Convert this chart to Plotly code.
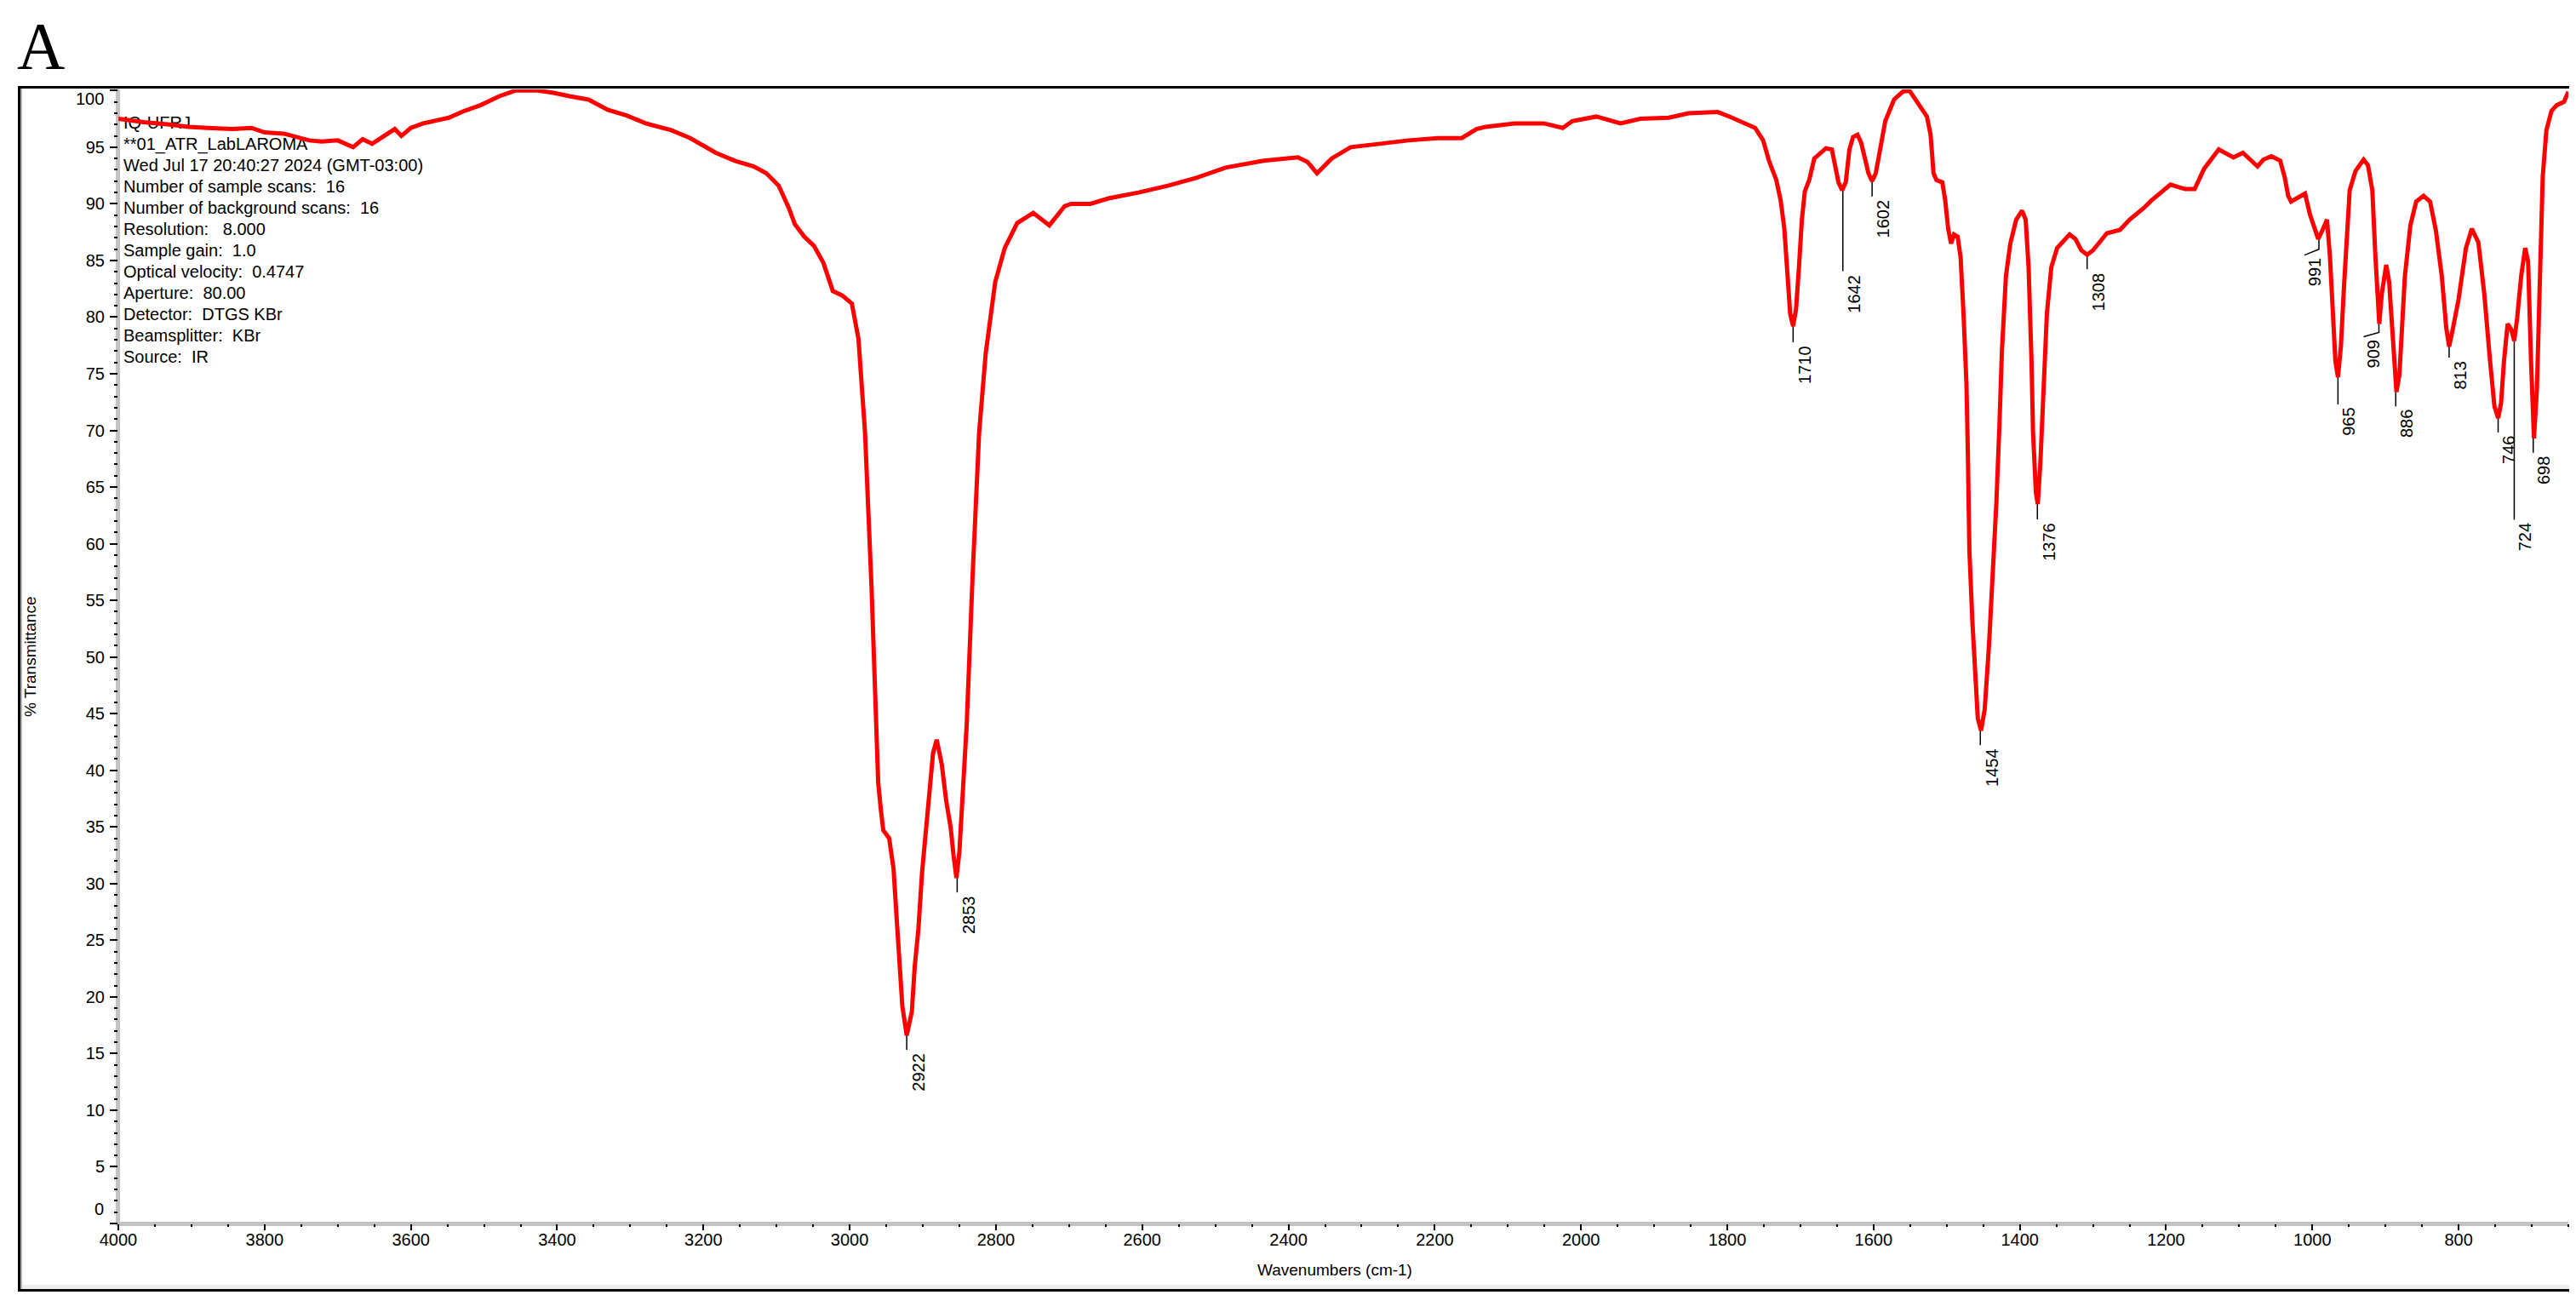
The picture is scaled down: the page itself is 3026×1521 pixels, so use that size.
import plotly.graph_objects as go

# ---------------- data ----------------
wavenumber = [
    4000, 3965, 3930, 3904, 3878, 3844, 3818, 3800, 3774, 3752, 3739, 3722, 3700, 3679, 3666,
    3653, 3635, 3622, 3613, 3600, 3583, 3566, 3548, 3527, 3505, 3479, 3457, 3427, 3405, 3383,
    3357, 3331, 3305, 3279, 3244, 3218, 3183, 3157, 3131, 3114, 3097, 3083, 3075, 3062, 3049,
    3036, 3023, 3010, 2997, 2988, 2979, 2970, 2963, 2961, 2957, 2954, 2946, 2940, 2936, 2932,
    2928, 2922, 2915, 2911, 2906, 2901, 2895, 2889, 2886, 2881, 2874, 2868, 2862, 2858, 2854,
    2850, 2847, 2844, 2842, 2840, 2832, 2823, 2814, 2801, 2788, 2771, 2749, 2727, 2706, 2697,
    2671, 2645, 2605, 2565, 2526, 2486, 2434, 2387, 2374, 2361, 2341, 2315, 2275, 2236, 2196,
    2163, 2143, 2130, 2091, 2051, 2025, 2012, 1979, 1946, 1919, 1880, 1853, 1827, 1813, 1797,
    1778, 1762, 1751, 1743, 1733, 1727, 1722, 1718, 1714, 1710, 1706, 1702, 1698, 1694, 1688,
    1681, 1665, 1657, 1652, 1648, 1643, 1638, 1633, 1628, 1622, 1617, 1611, 1607, 1602, 1597,
    1591, 1584, 1572, 1560, 1551, 1541, 1527, 1522, 1518, 1514, 1506, 1502, 1498, 1494, 1490,
    1485, 1481, 1477, 1473, 1471, 1469, 1465, 1461, 1457.5, 1453, 1448, 1442, 1436, 1432, 1428,
    1424.5, 1419, 1413, 1405, 1397, 1392, 1388, 1384, 1382, 1378, 1375.5, 1372, 1368, 1363, 1357,
    1349, 1332, 1324, 1316, 1308, 1300, 1281, 1263, 1250, 1231, 1220, 1194, 1174, 1161, 1148,
    1128, 1108, 1095, 1075, 1067, 1056, 1044, 1038, 1033, 1029, 1021, 1010, 1003.5, 998, 992,
    986, 980, 976, 972, 968.5, 965, 961, 957, 953, 949, 941, 930, 924, 918, 914,
    910, 908.5, 905, 899, 895, 891, 885, 881, 877.5, 873.5, 866, 858, 848, 839, 831,
    823, 817, 813, 807.5, 800, 790, 782, 773, 765, 757, 751, 746, 742, 738, 733,
    728, 724, 720, 714.5, 709, 705, 701, 697, 693, 689, 685, 680, 673, 666, 656, 650,
]
transmittance = [
    97.5, 97.2, 97.0, 96.8, 96.7, 96.6, 96.7, 96.3, 96.2, 95.8, 95.6, 95.5, 95.6, 95.0, 95.7,
    95.3, 96.0, 96.6, 96.0, 96.7, 97.1, 97.3, 97.6, 98.2, 98.7, 99.5, 100.0, 100.0, 99.8, 99.5,
    99.2, 98.3, 97.8, 97.1, 96.5, 95.8, 94.5, 93.8, 93.3, 92.7, 91.6, 89.6, 88.2, 87.1, 86.3,
    84.8, 82.3, 81.9, 81.2, 78.1, 69.8, 56.0, 43.5, 38.9, 36.3, 34.7, 34.0, 31.3, 27.2, 23.0,
    19.2, 16.6, 18.7, 22.7, 26.0, 31.0, 35.3, 39.0, 41.5, 42.7, 40.5, 37.3, 35.0, 32.5, 30.5,
    32.8, 36.0, 38.5, 41.0, 44.0, 57.0, 69.8, 76.8, 83.1, 86.1, 88.3, 89.2, 88.1, 89.8, 90.0,
    90.0, 90.5, 91.0, 91.6, 92.3, 93.2, 93.8, 94.1, 93.7, 92.7, 94.0, 95.0, 95.3, 95.6, 95.8,
    95.8, 96.6, 96.8, 97.1, 97.1, 96.7, 97.3, 97.7, 97.1, 97.5, 97.6, 98.0, 98.1, 98.1, 97.7,
    97.2, 96.7, 95.6, 93.8, 92.1, 90.3, 87.8, 83.6, 80.3, 79.2, 80.7, 84.4, 88.6, 91.1, 92.1,
    94.0, 94.9, 94.8, 93.2, 91.9, 91.2, 91.9, 94.8, 95.9, 96.1, 95.4, 93.8, 92.7, 92.0, 92.7,
    94.8, 97.3, 99.2, 99.9, 100.0, 99.0, 97.7, 96.1, 92.7, 92.1, 91.9, 90.3, 87.8, 86.5, 87.3,
    87.1, 85.3, 80.3, 74.1, 67.8, 59.5, 53.3, 47.9, 44.6, 43.5, 45.4, 51.2, 58.3, 63.7, 70.3,
    77.0, 83.6, 86.5, 88.6, 89.4, 88.6, 84.4, 76.1, 69.9, 64.5, 63.5, 67.0, 72.8, 80.3, 84.4,
    86.1, 87.3, 86.9, 85.9, 85.5, 85.9, 87.4, 87.7, 88.6, 89.6, 90.3, 91.7, 91.3, 91.3, 93.1,
    94.8, 94.1, 94.5, 93.3, 93.9, 94.2, 93.8, 92.4, 90.7, 90.2, 90.5, 90.9, 89.1, 87.9, 86.9,
    87.7, 88.6, 85.4, 80.4, 76.1, 74.7, 77.4, 82.4, 87.4, 91.2, 92.9, 93.9, 93.4, 91.2, 85.6,
    80.6, 79.4, 82.1, 84.6, 83.1, 78.6, 73.4, 74.9, 79.9, 83.6, 88.1, 90.2, 90.7, 90.2, 87.6,
    83.6, 79.1, 77.4, 79.1, 81.6, 86.1, 87.8, 86.6, 82.1, 76.1, 72.1, 71.1, 72.4, 76.1, 79.4,
    78.9, 77.9, 79.9, 83.6, 86.1, 84.9, 76.1, 69.3, 73.6, 83.6, 92.4, 96.5, 98.2, 98.7, 99.0, 99.9,
]

peak_labels = ["2922", "2853", "1710", "1642", "1602", "1454", "1376", "1308",
               "991", "965", "909", "886", "813", "746", "724", "698"]
peak_wn = [2922, 2853, 1710, 1642, 1602, 1454, 1376, 1308, 991, 965, 909, 886, 813, 746, 724, 698]
peak_T = [16.6, 30.5, 79.2, 91.2, 92.0, 43.5, 63.5, 85.5, 86.9, 74.7, 79.4, 73.4, 77.4, 71.1, 77.9, 69.3]

x_tick_values = list(range(800, 4001, 200))
y_tick_values = list(range(0, 101, 5))
y_tick_text = ["" if v in (0, 100) else str(v) for v in y_tick_values]

header_lines = [
    "IQ-UFRJ",
    "**01_ATR_LabLAROMA",
    "Wed Jul 17 20:40:27 2024 (GMT-03:00)",
    "Number of sample scans:  16",
    "Number of background scans:  16",
    "Resolution:   8.000",
    "Sample gain:  1.0",
    "Optical velocity:  0.4747",
    "Aperture:  80.00",
    "Detector:  DTGS KBr",
    "Beamsplitter:  KBr",
    "Source:  IR",
]

# ---------------- layout geometry (pixels) ----------------
W, H = 3026, 1521
PLOT_L, PLOT_R, PLOT_T, PLOT_B = 131, 3009, 97, 1429
X_HI, X_LO = 4000, 650
Y_LO, Y_HI = 0, 100.1
PXW = (PLOT_R - PLOT_L) / (X_HI - X_LO)
PXT = (PLOT_B - PLOT_T) / (Y_HI - Y_LO)

def wn_at(px):
    return X_HI - (px - PLOT_L) / PXW

def t_at(py):
    return Y_LO + (PLOT_B - py) / PXT

def xp(px):
    return (px - PLOT_L) / (PLOT_R - PLOT_L)

def yp(py):
    return (PLOT_B - py) / (PLOT_B - PLOT_T)

# leader style per label: vertical length, elbow dx/dy (px), label centre dx
leader_len = [17, 17, 19, 95, 18, 17, 18, 17, 12, 32, 10, 17, 13, 17, 210, 17]
elbow_dx = [0, 0, 0, 0, 0, 0, 0, 0, -17, 0, -18, 0, 0, 0, 0, 0]
elbow_dy = [0, 0, 0, 0, 0, 0, 0, 0, 7, 0, 5, 0, 0, 0, 0, 0]
label_dx = [13, 13, 13, 13, 13, 13, 13, 13, -5, 13, -7, 13, 13, 13, 12, 13]

FONT = "Liberation Sans, Arial, sans-serif"
fig = go.Figure()

# header text (below the spectrum)
fig.add_trace(go.Scatter(
    x=[wn_at(137)] * len(header_lines),
    y=[t_at(138 + 25 * i) for i in range(len(header_lines))],
    mode="text",
    text=[s.replace(" ", "\u00a0") for s in header_lines],
    textposition="middle right",
    textfont=dict(family=FONT, size=20, color="black"),
    hoverinfo="skip", showlegend=False,
))

# leader lines
lx, ly = [], []
for i in range(len(peak_wn)):
    x0, y0 = peak_wn[i], peak_T[i]
    y1 = y0 - leader_len[i] / PXT
    lx += [x0, x0]
    ly += [y0, y1]
    if elbow_dx[i] != 0:
        lx += [x0 - elbow_dx[i] / PXW]
        ly += [y1 - elbow_dy[i] / PXT]
    lx.append(None)
    ly.append(None)
fig.add_trace(go.Scatter(x=lx, y=ly, mode="lines", line=dict(color="black", width=1.5),
                         hoverinfo="skip", showlegend=False))

# spectrum
fig.add_trace(go.Scatter(
    x=wavenumber, y=transmittance, mode="lines",
    line=dict(color="#ff0000", width=5),
    showlegend=False,
))

annotations = []
for i in range(len(peak_wn)):
    top_px = leader_len[i] + elbow_dy[i] + 2
    annotations.append(dict(
        x=peak_wn[i], y=peak_T[i], xref="x", yref="y",
        text=peak_labels[i], textangle=-90, showarrow=False,
        xanchor="center", yanchor="top",
        xshift=label_dx[i], yshift=-top_px,
        font=dict(family=FONT, size=20, color="black"),
    ))

# y end labels (shifted inward as in the original)
for val, py in (("100", 108), ("0", 1412)):
    annotations.append(dict(x=xp(116), y=yp(py), xref="paper", yref="paper", text=val,
                            showarrow=False, xanchor="right", yanchor="middle",
                            font=dict(family=FONT, size=20, color="black")))

# axis titles
annotations.append(dict(x=xp(27), y=yp(763), xref="paper", yref="paper", text="% Transmittance",
                        textangle=-90, showarrow=False, xanchor="center", yanchor="middle",
                        font=dict(family=FONT, size=19, color="black")))
annotations.append(dict(x=xp(1560), y=yp(1483), xref="paper", yref="paper", text="Wavenumbers (cm-1)",
                        showarrow=False, xanchor="center", yanchor="middle",
                        font=dict(family=FONT, size=19, color="black")))
# panel letter
annotations.append(dict(x=xp(10), y=yp(0), xref="paper", yref="paper", text="A",
                        showarrow=False, xanchor="left", yanchor="top",
                        font=dict(family="Liberation Serif, Times New Roman, serif", size=78, color="black")))

shapes = [
    # window frame
    dict(type="rect", xref="paper", yref="paper", x0=xp(14.5), x1=xp(3012.5), y0=yp(94.5), y1=yp(1507.5),
         line=dict(color="black", width=3), layer="above"),
    dict(type="rect", xref="paper", yref="paper", x0=xp(16), x1=xp(3011), y0=yp(1501), y1=yp(1506),
         line=dict(width=0), fillcolor="#eeeeee", layer="below"),
    dict(type="line", xref="paper", yref="paper", x0=xp(17), x1=xp(17), y0=yp(96), y1=yp(1506),
         line=dict(color="#b0b0b0", width=2), layer="below"),
    # grey axis bars
    dict(type="rect", xref="paper", yref="paper", x0=xp(128), x1=xp(133), y0=yp(97), y1=yp(1432),
         line=dict(width=0), fillcolor="#c3c3c3", layer="below"),
    dict(type="rect", xref="paper", yref="paper", x0=xp(128), x1=xp(3009), y0=yp(1427), y1=yp(1432),
         line=dict(width=0), fillcolor="#c3c3c3", layer="below"),
]

fig.update_layout(
    width=W, height=H,
    margin=dict(l=PLOT_L, r=W - PLOT_R, t=PLOT_T, b=H - PLOT_B, pad=0),
    paper_bgcolor="white", plot_bgcolor="white",
    font=dict(family=FONT, size=20, color="black"),
    showlegend=False,
    annotations=annotations,
    shapes=shapes,
    xaxis=dict(
        range=[X_HI, X_LO], showgrid=False, zeroline=False, showline=False,
        tickmode="array", tickvals=x_tick_values,
        ticks="outside", ticklen=7, tickwidth=2, tickcolor="black",
        ticklabelstandoff=-6,
        tickfont=dict(family=FONT, size=20, color="black"),
        minor=dict(dtick=50, ticks="outside", ticklen=3, tickwidth=2, tickcolor="black", showgrid=False),
    ),
    yaxis=dict(
        range=[Y_LO, Y_HI], showgrid=False, zeroline=False, showline=False,
        tickmode="array", tickvals=y_tick_values, ticktext=y_tick_text,
        ticks="outside", ticklen=9, tickwidth=2, tickcolor="black",
        ticklabelstandoff=2,
        tickfont=dict(family=FONT, size=20, color="black"),
        minor=dict(dtick=1, ticks="outside", ticklen=4, tickwidth=2, tickcolor="black", showgrid=False),
    ),
)

fig.write_html("out.html")
